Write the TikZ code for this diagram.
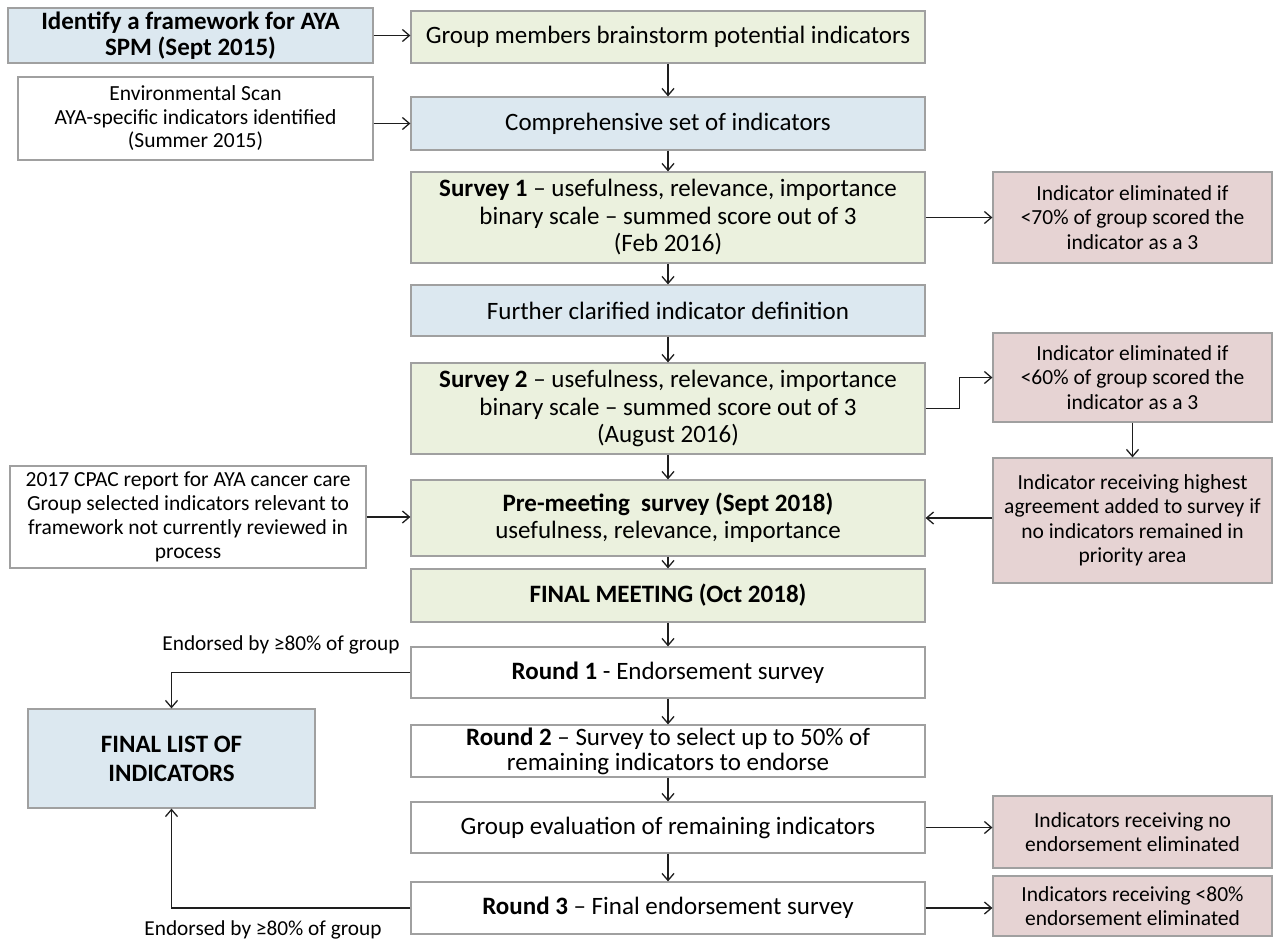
\documentclass[tikz,border=0pt]{standalone}
\usepackage{fontspec}
\setmainfont{Carlito}
\usetikzlibrary{arrows.meta}
\definecolor{bluef}{RGB}{220,232,240}
\definecolor{greenf}{RGB}{235,241,222}
\definecolor{pinkf}{RGB}{230,211,211}
\definecolor{bord}{RGB}{160,160,160}
\definecolor{arr}{RGB}{30,30,30}
\tikzset{
  box/.style={draw=bord, line width=1.2pt, align=center, inner sep=1pt, text=black, font=\fontsize{25}{29}\selectfont},
  cbox/.style={box, minimum width=514pt},
  pbox/.style={box, fill=pinkf, minimum width=279pt, font=\fontsize{21.5}{24.5}\selectfont},
  wbox/.style={box, fill=white, font=\fontsize{21.5}{24}\selectfont},
  conn/.style={draw=arr, line width=1.3pt, -{Straight Barb[length=7pt,width=12pt]}},
  lbl/.style={font=\fontsize{21.3}{24}\selectfont, inner sep=0pt}
}
\begin{document}
\begin{tikzpicture}[x=1pt,y=-1pt]
\useasboundingbox (0,0) rectangle (1275,940);
% left / top
\node[box, fill=bluef, minimum width=365pt, minimum height=55pt, font=\bfseries\fontsize{25}{26}\selectfont] (ident) at (190.5,35.5) {Identify a framework for AYA\\SPM (Sept 2015)};
\node[cbox, fill=greenf, minimum height=52pt] (brain) at (668,37) {Group members brainstorm potential indicators};
\node[wbox, minimum width=355pt, minimum height=83pt, font=\fontsize{21.5}{23.5}\selectfont] (env) at (195.5,118.5) {Environmental Scan\\AYA-specific indicators identified\\(Summer 2015)};
\node[cbox, fill=bluef, minimum height=53pt] (comp) at (668,123.5) {Comprehensive set of indicators};
\node[cbox, fill=greenf, minimum height=91pt, font=\fontsize{25}{27.5}\selectfont] (s1) at (668,217.5) {\textbf{Survey 1} – usefulness, relevance, importance\\binary scale – summed score out of 3\\(Feb 2016)};
\node[pbox, minimum height=91pt] (p1) at (1132.5,217.5) {Indicator eliminated if\\<70\% of group scored the\\indicator as a 3};
\node[cbox, fill=bluef, minimum height=51pt] (fur) at (668,310.5) {Further clarified indicator definition};
\node[cbox, fill=greenf, minimum height=91pt, font=\fontsize{25}{27.5}\selectfont] (s2) at (668,408.5) {\textbf{Survey 2} – usefulness, relevance, importance\\binary scale – summed score out of 3\\(August 2016)};
\node[pbox, minimum height=89pt] (p2) at (1132.5,377.5) {Indicator eliminated if\\<60\% of group scored the\\indicator as a 3};
\node[wbox, minimum width=356pt, minimum height=102pt] (cpac) at (188,517) {2017 CPAC report for AYA cancer care\\Group selected indicators relevant to\\framework not currently reviewed in\\process};
\node[cbox, fill=greenf, minimum height=76pt, font=\fontsize{25}{27}\selectfont] (pre) at (668,518) {\textbf{Pre-meeting\ \ survey (Sept 2018)}\\usefulness, relevance, importance};
\node[pbox, minimum height=125pt] (p3) at (1132.5,520.5) {Indicator receiving highest\\agreement added to survey if\\no indicators remained in\\priority area};
\node[cbox, fill=greenf, minimum height=53pt] (fm) at (668,595.5) {\textbf{FINAL MEETING (Oct 2018)}};
\node[cbox, fill=white, minimum height=51pt] (r1) at (668,672.5) {\textbf{Round 1} - Endorsement survey};
\node[box, fill=bluef, minimum width=287pt, minimum height=99pt, font=\bfseries\fontsize{25}{29}\selectfont] (fl) at (171.5,758.5) {FINAL LIST OF\\INDICATORS};
\node[cbox, fill=white, minimum height=52pt, font=\fontsize{25}{25}\selectfont] (r2) at (668,751) {\textbf{Round 2} – Survey to select up to 50\% of\\remaining indicators to endorse};
\node[cbox, fill=white, minimum height=51pt] (ge) at (668,827.5) {Group evaluation of remaining indicators};
\node[pbox, minimum height=72pt] (p4) at (1132.5,832) {Indicators receiving no\\endorsement eliminated};
\node[cbox, fill=white, minimum height=52pt] (r3) at (668,908) {\textbf{Round 3} – Final endorsement survey};
\node[pbox, minimum height=60pt] (p5) at (1132.5,906) {Indicators receiving <80\%\\endorsement eliminated};
% labels
\node[lbl] (l1) at (281,645) {Endorsed by ≥80\% of group};
\node[lbl] (l2) at (263,930) {Endorsed by ≥80\% of group};
% connectors
\draw[conn] (ident.east) -- (ident.east -| brain.west);
\draw[conn] (env.east |- comp.west) -- (comp.west);
\draw[conn] (brain) -- (comp);
\draw[conn] (comp) -- (s1);
\draw[conn] (s1) -- (fur);
\draw[conn] (fur) -- (s2);
\draw[conn] (s2) -- (pre);
\draw[conn] (pre) -- (fm);
\draw[conn] (fm) -- (r1);
\draw[conn] (r1) -- (r2);
\draw[conn] (r2) -- (ge);
\draw[conn] (ge) -- (r3);
\draw[conn] (s1.east) -- (p1.west);
\draw[conn] (s2.east) -- ++(34,0) |- (p2.west);
\draw[conn] (p2) -- (p3);
\draw[conn] (p3.west |- pre.east) -- (pre.east);
\draw[conn] (cpac.east) -- (cpac.east -| pre.west);
\draw[conn] (r1.west) -| (fl.north);
\draw[conn] (r3.west) -| (fl.south);
\draw[conn] (ge.east) -- (ge.east -| p4.west);
\draw[conn] (r3.east) -- (r3.east -| p5.west);
\end{tikzpicture}
\end{document}
